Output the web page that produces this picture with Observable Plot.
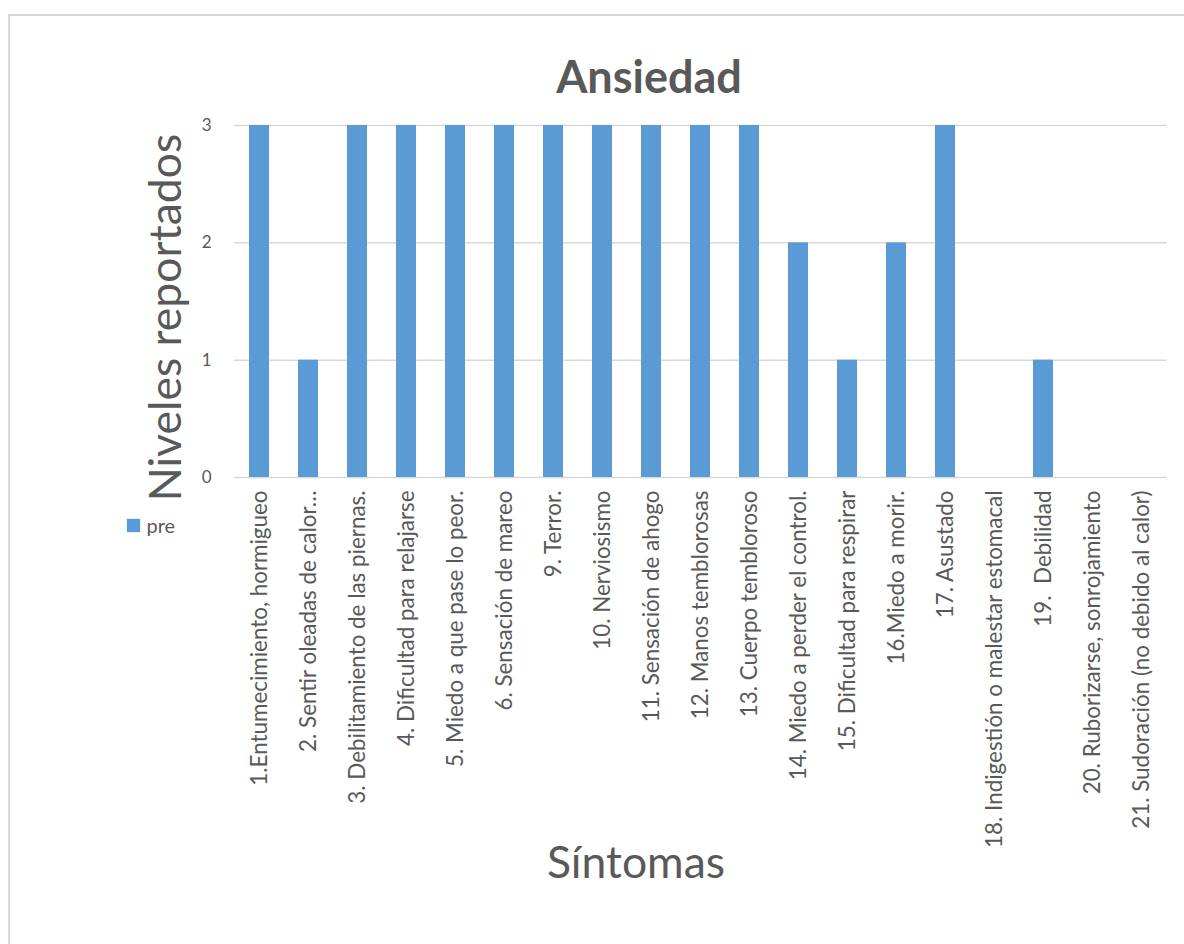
<!DOCTYPE html>
<html>
<head>
<meta charset="utf-8">
<script src="https://cdn.jsdelivr.net/npm/d3@7"></script>
<script src="https://cdn.jsdelivr.net/npm/@observablehq/plot@0.6"></script>
<style>
  html, body { margin: 0; padding: 0; background: #fff; overflow: hidden; }
  #wrap { position: relative; width: 1184px; height: 944px; }
  #border { position: absolute; left: 8px; top: 14px; width: 1200px; height: 1000px;
            border: 2px solid #D9D9D9; box-sizing: border-box; }
  #chart { position: absolute; left: 0; top: 0; }
  #chart svg text { white-space: pre; }
</style>
</head>
<body>
<div id="wrap">
  <div id="border"></div>
  <div id="chart"></div>
</div>
<script>
// Symptom categories (items 7 and 8 are not listed)
const sintomas = [
  "1.Entumecimiento, hormigueo",
  "2. Sentir oleadas de calor…",
  "3. Debilitamiento de las piernas.",
  "4. Dificultad para relajarse",
  "5. Miedo a que pase lo peor.",
  "6. Sensación de mareo",
  "9. Terror.",
  "10. Nerviosismo",
  "11. Sensación de ahogo",
  "12. Manos temblorosas",
  "13. Cuerpo tembloroso",
  "14. Miedo a perder el control.",
  "15. Dificultad para respirar",
  "16.Miedo a morir.",
  "17. Asustado",
  "18. Indigestión o malestar estomacal",
  "19.  Debilidad",
  "20. Ruborizarse, sonrojamiento",
  "21. Sudoración (no debido al calor)"
];

// Reported level for the "pre" series
const pre = [3, 1, 3, 3, 3, 3, 3, 3, 3, 3, 3, 2, 1, 2, 3, 0, 1, 0, 0];

const yTicks = [0, 1, 2, 3];
const serie = "pre";
const titulo = "Ansiedad";
const tituloY = "Niveles reportados";
const tituloX = "Síntomas";

const data = sintomas.map((s, i) => ({sintoma: s, valor: pre[i]}));

const gray = "#595959";
const blue = "#5B9BD5";
const font = "Lato, 'Open Sans', sans-serif";

const chart = Plot.plot({
  width: 1184,
  height: 944,
  marginLeft: 234,
  marginRight: 17,
  marginTop: 125,
  marginBottom: 467,
  style: {fontFamily: font, color: gray, background: "transparent"},
  x: {domain: sintomas, paddingInner: 0.59, paddingOuter: 0.295, label: null},
  y: {domain: [0, 3], ticks: yTicks, label: null},
  marks: [
    Plot.gridY(yTicks, {stroke: "#D9D9D9", strokeOpacity: 1, strokeWidth: 1.5}),
    Plot.barY(data, {x: "sintoma", y: "valor", fill: blue}),
    Plot.axisY({ticks: yTicks, tickFormat: d => String(d), tickSize: 0, tickPadding: 23,
      fontSize: 17, fill: gray, label: null}),
    Plot.axisX({tickSize: 0, tickPadding: 13, tickRotate: -90, fontSize: 22.4, fill: gray, label: null}),
    // Chart title
    Plot.text([titulo], {frameAnchor: "top", lineAnchor: "bottom", dx: -52, dy: -33,
      fontSize: 45, fontWeight: "bold", fill: gray}),
    // Axis titles
    Plot.text([tituloX], {frameAnchor: "bottom", lineAnchor: "bottom", dx: -65, dy: 400,
      fontSize: 44.5, fill: gray}),
    Plot.text([tituloY], {frameAnchor: "left", textAnchor: "middle", lineAnchor: "bottom",
      rotate: -90, dx: -54, dy: 16, fontSize: 44.5, fill: gray}),
    // Legend
    Plot.dot([serie], {frameAnchor: "left", symbol: "square", r: 7.5, fill: blue, stroke: null,
      dx: -101, dy: 224}),
    Plot.text([serie], {frameAnchor: "left", textAnchor: "start", lineAnchor: "bottom",
      dx: -88, dy: 231, fontSize: 20, fill: gray})
  ]
});

document.getElementById("chart").appendChild(chart);
</script>
</body>
</html>
